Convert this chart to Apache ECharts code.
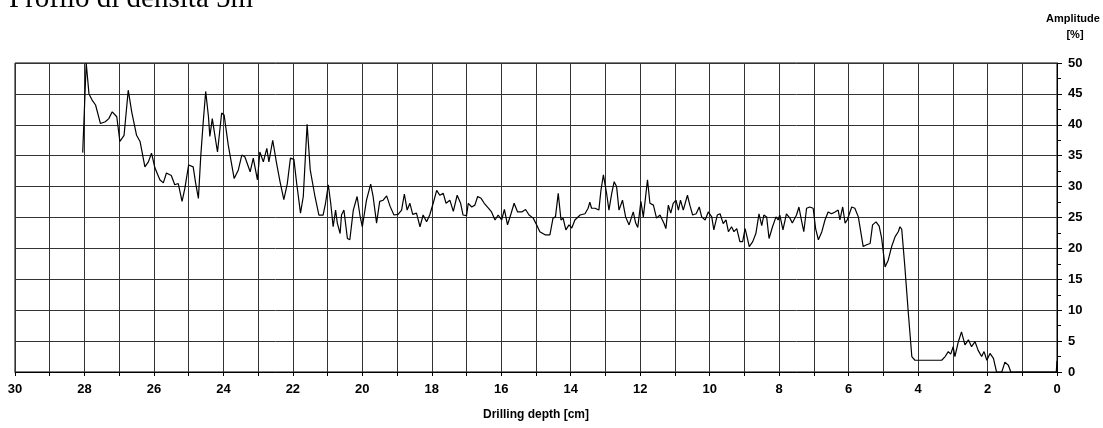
<!DOCTYPE html>
<html>
<head>
<meta charset="utf-8">
<style>
  html, body { margin: 0; padding: 0; background: #fff; }
  #chart { width: 1103px; height: 428px; }
</style>
<script src="https://cdn.jsdelivr.net/npm/echarts@6/dist/echarts.min.js"></script>
</head>
<body>
<div id="chart"></div>
<script>
// Drilling depth [cm]
const depth = [
  28.05, 28.04, 27.95, 27.87, 27.78, 27.68, 27.54, 27.4, 27.3, 27.2, 27.07, 26.98, 26.86, 26.74, 26.64, 26.5, 26.4, 26.26, 26.16, 26.07,
  25.97, 25.83, 25.73, 25.64, 25.5, 25.4, 25.3, 25.19, 25.11, 25.0, 24.87, 24.8, 24.72, 24.65, 24.58, 24.51, 24.43, 24.39, 24.32, 24.24,
  24.17, 24.05, 23.98, 23.86, 23.69, 23.57, 23.47, 23.38, 23.23, 23.14, 23.02, 22.95, 22.85, 22.75, 22.69, 22.58, 22.47, 22.37, 22.26, 22.16,
  22.07, 21.97, 21.89, 21.78, 21.7, 21.59, 21.5, 21.37, 21.25, 21.13, 21.06, 20.98, 20.91, 20.84, 20.77, 20.72, 20.64, 20.6, 20.53, 20.43,
  20.36, 20.26, 20.15, 20.07, 20.0, 19.88, 19.76, 19.69, 19.59, 19.5, 19.4, 19.3, 19.2, 19.09, 18.97, 18.87, 18.79, 18.71, 18.63, 18.55,
  18.44, 18.34, 18.25, 18.15, 18.06, 17.96, 17.86, 17.77, 17.67, 17.59, 17.48, 17.38, 17.27, 17.17, 17.1, 17.0, 16.95, 16.85, 16.76, 16.68,
  16.58, 16.49, 16.37, 16.28, 16.18, 16.09, 15.99, 15.91, 15.82, 15.72, 15.63, 15.53, 15.41, 15.3, 15.2, 15.08, 14.98, 14.89, 14.74, 14.6,
  14.51, 14.44, 14.36, 14.28, 14.22, 14.14, 14.05, 13.97, 13.88, 13.73, 13.59, 13.5, 13.45, 13.4, 13.3, 13.19, 13.13, 13.06, 12.97, 12.9,
  12.82, 12.75, 12.68, 12.61, 12.51, 12.42, 12.32, 12.2, 12.13, 12.07, 11.98, 11.91, 11.79, 11.72, 11.62, 11.53, 11.43, 11.31, 11.26, 11.19,
  11.12, 11.05, 10.97, 10.9, 10.84, 10.76, 10.64, 10.57, 10.49, 10.39, 10.3, 10.23, 10.13, 10.04, 9.94, 9.88, 9.78, 9.7, 9.61, 9.53,
  9.46, 9.37, 9.3, 9.22, 9.13, 9.05, 8.98, 8.92, 8.86, 8.76, 8.67, 8.58, 8.5, 8.44, 8.36, 8.29, 8.19, 8.09, 8.03, 7.98,
  7.89, 7.79, 7.69, 7.62, 7.5, 7.43, 7.36, 7.29, 7.21, 7.12, 7.02, 6.95, 6.87, 6.77, 6.68, 6.59, 6.49, 6.39, 6.3, 6.25,
  6.17, 6.1, 6.04, 5.91, 5.82, 5.72, 5.67, 5.58, 5.48, 5.38, 5.31, 5.21, 5.12, 5.05, 4.95, 4.86, 4.76, 4.66, 4.57, 4.52,
  4.47, 4.38, 4.28, 4.18, 4.09, 3.32, 3.22, 3.13, 3.06, 2.99, 2.94, 2.84, 2.75, 2.65, 2.55, 2.46, 2.36, 2.27, 2.17, 2.1,
  2.02, 1.93, 1.83, 1.74, 1.59, 1.5, 1.4, 1.33, 0.02, 0
];
// Amplitude [%]
const amplitude = [
  35.5, 37, 50, 45, 44, 43.2, 40.2, 40.5, 41, 42.1, 41.3, 37.3, 38.3, 45.6, 42.1, 38.3, 37.3, 33.2, 34, 35.4,
  33, 31.1, 30.6, 32.2, 31.8, 30.3, 30.5, 27.6, 29.7, 33.5, 33.2, 30.6, 28.1, 35.1, 40.5, 45.4, 41.3, 38.1, 41, 38.1,
  35.6, 41.9, 41.6, 36.7, 31.3, 32.7, 35.1, 34.8, 32.4, 34.6, 31.1, 35.6, 34, 36.2, 34, 37.5, 33.8, 30.8, 27.9, 30.5,
  34.6, 34.4, 30.5, 25.7, 28.4, 40.1, 32.7, 28.6, 25.4, 25.4, 27.3, 30.3, 27.3, 23.5, 26.2, 24.1, 22.4, 25.4, 26.2, 21.6,
  21.4, 26.2, 28.4, 25.4, 23.5, 27.8, 30.4, 28.4, 24.1, 27.6, 27.8, 28.5, 26.8, 25.4, 25.5, 26.2, 28.8, 26.2, 27.3, 25.5,
  25.7, 23.5, 25.4, 24.3, 25.4, 27.3, 29.4, 28.6, 28.9, 27.3, 27.8, 26, 28.6, 27.3, 25.4, 25.3, 27.3, 26.7, 27, 28.4,
  28.1, 27.3, 26.5, 25.9, 24.6, 25.4, 24.6, 26.3, 23.8, 25.6, 27.3, 25.9, 25.9, 26.3, 25.4, 24.9, 23.8, 22.7, 22.2, 22.2,
  24.9, 25.1, 28.9, 24.6, 24.9, 23, 23.8, 23.3, 24.6, 25.4, 25.6, 26.5, 27.5, 26.5, 26.5, 26.2, 29.4, 31.9, 29, 26.2,
  28.9, 30.8, 30, 26.2, 27.8, 25.1, 23.8, 25.9, 24.1, 23.4, 27.6, 25.1, 31.1, 27.3, 27, 24.9, 25.4, 24, 23.2, 27,
  25.7, 27.3, 27.8, 26.2, 27.8, 26.2, 28.6, 27, 25.4, 25.6, 26.7, 25.1, 24.6, 25.9, 25.1, 23, 25.4, 25.6, 24, 24.6,
  22.7, 23.5, 22.7, 23.2, 21.1, 21.1, 23.2, 21.8, 20.3, 21.1, 22.4, 25.6, 23.7, 25.4, 25.1, 21.6, 23.5, 25.1, 24.6, 25.4,
  23, 25.6, 24.9, 24.1, 25.4, 26.7, 24.6, 22.7, 26.5, 26.7, 26.5, 23.2, 21.4, 22.7, 24.6, 25.9, 25.6, 25.9, 26.2, 24.6,
  26.7, 24.1, 24.6, 26.7, 26.5, 25.1, 24.9, 20.3, 20.6, 20.8, 23.8, 24.3, 23.6, 21.7, 17, 18.1, 20.3, 21.9, 22.7, 23.5,
  23.1, 17, 9.5, 2.5, 1.9, 1.9, 2.5, 3.3, 2.9, 4.1, 2.5, 4.9, 6.5, 4.4, 5.2, 4.1, 4.9, 3.5, 2.5, 3.3,
  1.9, 3, 2.2, 0, 0, 1.6, 1.1, 0, 0, 1.8
];
const xTicksMin = 0, xTicksMax = 30, xStep = 1;
const yTicksMin = 0, yTicksMax = 50, yStep = 5;

const titleText = 'Profilo di densità 5m';
const yNameLines = ['Amplitude', '[%]'];
const xName = 'Drilling depth [cm]';

const points = depth.map((d, i) => [d, amplitude[i]]);
const sans = "'Liberation Sans', Arial, sans-serif";

const chart = echarts.init(document.getElementById('chart'), null, { renderer: 'canvas' });
chart.setOption({
  animation: false,
  backgroundColor: '#fff',
  grid: { left: 15, right: 46, top: 63, bottom: 56, show: true, borderColor: '#000', borderWidth: 1, backgroundColor: 'transparent' },
  xAxis: {
    type: 'value', inverse: true, min: xTicksMin, max: xTicksMax, interval: xStep,
    axisLine: { show: true, onZero: false, lineStyle: { color: '#000', width: 1 } },
    axisTick: { show: true, inside: false, length: 4, lineStyle: { color: '#000' } },
    axisLabel: {
      margin: 11, color: '#000', fontFamily: sans, fontWeight: 'bold', fontSize: 13,
      formatter: v => (Math.round(v) % 2 === 0 ? String(Math.round(v)) : '')
    },
    splitLine: { show: true, lineStyle: { color: '#333', width: 1 } }
  },
  yAxis: {
    type: 'value', position: 'right', min: yTicksMin, max: yTicksMax, interval: yStep,
    axisLine: { show: true, lineStyle: { color: '#000', width: 1 } },
    axisTick: { show: true, length: 5, lineStyle: { color: '#000' } },
    minorTick: { show: true, splitNumber: 2, length: 4, lineStyle: { color: '#000' } },
    axisLabel: { margin: 11, color: '#000', fontFamily: sans, fontWeight: 'bold', fontSize: 13 },
    splitLine: { show: true, lineStyle: { color: '#333', width: 1 } }
  },
  series: [{
    type: 'line', data: points, showSymbol: false, symbol: 'none',
    lineStyle: { color: '#000', width: 1.2 }, z: 5
  }],
  graphic: [
    { type: 'text', left: 9, top: -15, style: { text: titleText, font: "29px 'Liberation Serif', 'Times New Roman', serif", fill: '#000' } },
    { type: 'text', style: { text: yNameLines[0], x: 1073, y: 19, align: 'center', verticalAlign: 'middle', font: "bold 11px " + sans, fill: '#000' } },
    { type: 'text', style: { text: yNameLines[1], x: 1075, y: 35, align: 'center', verticalAlign: 'middle', font: "bold 11px " + sans, fill: '#000' } },
    { type: 'text', style: { text: xName, x: 536, y: 415, align: 'center', verticalAlign: 'middle', font: "bold 12px " + sans, fill: '#000' } }
  ]
});
</script>
</body>
</html>
